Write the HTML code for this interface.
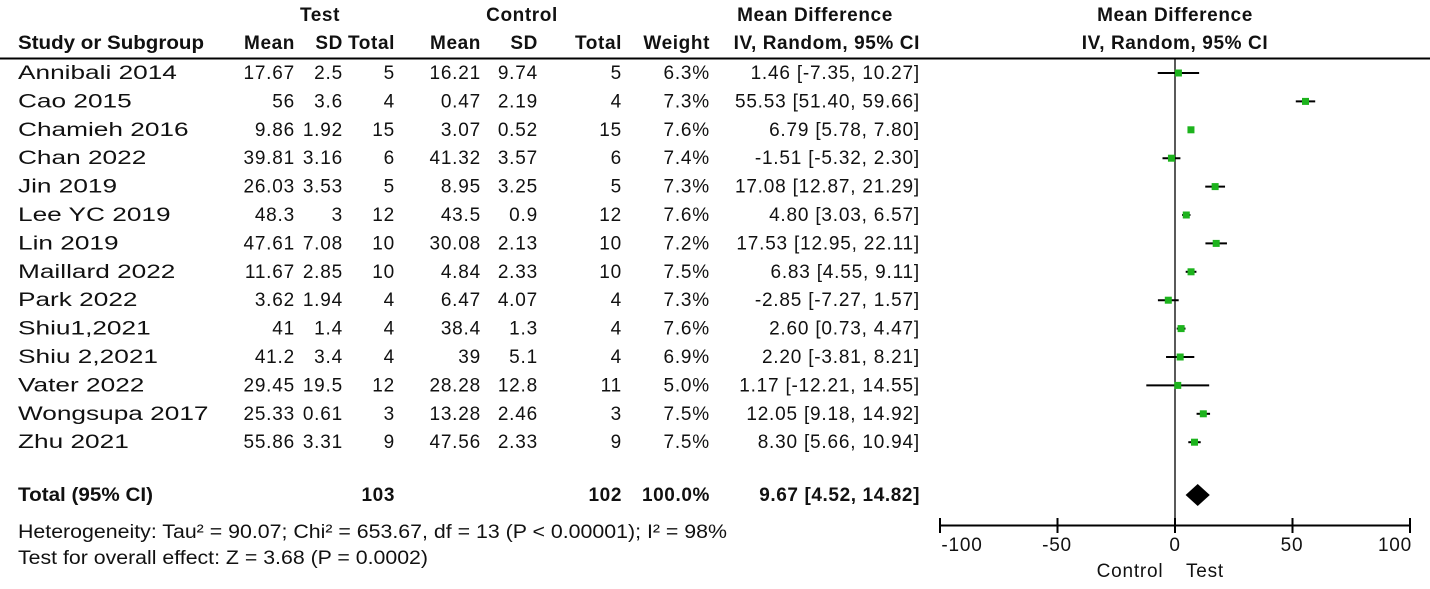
<!DOCTYPE html>
<html><head><meta charset="utf-8"><style>
html,body{margin:0;padding:0;background:#fff;}
svg{display:block;}
text{font-family:"Liberation Sans",Arial,sans-serif;font-size:19px;fill:#111;letter-spacing:0.8px;}
.b{font-weight:bold;letter-spacing:0.6px;}
.n{letter-spacing:0;}
.e{text-anchor:end;}
.m{text-anchor:middle;}
</style></head><body>
<svg width="1430" height="589" viewBox="0 0 1430 589">
<g>
<text x="320" y="21" class="m b">Test</text>
<text x="522" y="21" class="m b">Control</text>
<text x="815" y="21" class="m b">Mean Difference</text>
<text x="1175" y="21" class="m b">Mean Difference</text>
<text x="18" y="49" class="b n" textLength="186" lengthAdjust="spacingAndGlyphs">Study or Subgroup</text>
<text x="295" y="49" class="e b">Mean</text>
<text x="343" y="49" class="e b">SD</text>
<text x="395" y="49" class="e b">Total</text>
<text x="481" y="49" class="e b">Mean</text>
<text x="538" y="49" class="e b">SD</text>
<text x="622" y="49" class="e b">Total</text>
<text x="710" y="49" class="e b">Weight</text>
<text x="920" y="49" class="e b">IV, Random, 95% CI</text>
<text x="1175" y="49" class="m b">IV, Random, 95% CI</text>
</g>
<line x1="0" y1="58.5" x2="1430" y2="58.5" stroke="#000" stroke-width="2"/>
<line x1="1175" y1="59" x2="1175" y2="525" stroke="#000" stroke-width="1.3"/>
<g id="rows"></g>
<text x="18" y="501" class="b n" textLength="135" lengthAdjust="spacingAndGlyphs">Total (95% CI)</text>
<text x="395" y="501" class="e b">103</text>
<text x="622" y="501" class="e b">102</text>
<text x="710" y="501" class="e b">100.0%</text>
<text x="920" y="501" class="e b">9.67 [4.52, 14.82]</text>
<polygon points="1185.6,495 1197.7,484 1209.8,495 1197.7,506" fill="#000"/>
<text x="18" y="538" class="n" textLength="709" lengthAdjust="spacingAndGlyphs">Heterogeneity: Tau² = 90.07; Chi² = 653.67, df = 13 (P &lt; 0.00001); I² = 98%</text>
<text x="18" y="564" class="n" textLength="410" lengthAdjust="spacingAndGlyphs">Test for overall effect: Z = 3.68 (P = 0.0002)</text>
<line x1="940" y1="525.5" x2="1410" y2="525.5" stroke="#000" stroke-width="2"/>
<g stroke="#000" stroke-width="2">
<line x1="940" y1="518" x2="940" y2="533"/><line x1="1057.5" y1="518" x2="1057.5" y2="533"/>
<line x1="1175" y1="518" x2="1175" y2="533"/><line x1="1292.5" y1="518" x2="1292.5" y2="533"/>
<line x1="1410" y1="518" x2="1410" y2="533"/>
</g>
<text x="962" y="551" class="m">-100</text>
<text x="1057" y="551" class="m">-50</text>
<text x="1175" y="551" class="m">0</text>
<text x="1292" y="551" class="m">50</text>
<text x="1395" y="551" class="m">100</text>
<text x="1130" y="577" class="m">Control</text>
<text x="1205" y="577" class="m">Test</text>
<g id="plot"></g>
</svg>
<script>
var d=[["Annibali 2014","17.67","2.5","5","16.21","9.74","5","6.3%","1.46 [-7.35, 10.27]",1.46,-7.35,10.27],
["Cao 2015","56","3.6","4","0.47","2.19","4","7.3%","55.53 [51.40, 59.66]",55.53,51.40,59.66],
["Chamieh 2016","9.86","1.92","15","3.07","0.52","15","7.6%","6.79 [5.78, 7.80]",6.79,5.78,7.80],
["Chan 2022","39.81","3.16","6","41.32","3.57","6","7.4%","-1.51 [-5.32, 2.30]",-1.51,-5.32,2.30],
["Jin 2019","26.03","3.53","5","8.95","3.25","5","7.3%","17.08 [12.87, 21.29]",17.08,12.87,21.29],
["Lee YC 2019","48.3","3","12","43.5","0.9","12","7.6%","4.80 [3.03, 6.57]",4.80,3.03,6.57],
["Lin 2019","47.61","7.08","10","30.08","2.13","10","7.2%","17.53 [12.95, 22.11]",17.53,12.95,22.11],
["Maillard 2022","11.67","2.85","10","4.84","2.33","10","7.5%","6.83 [4.55, 9.11]",6.83,4.55,9.11],
["Park 2022","3.62","1.94","4","6.47","4.07","4","7.3%","-2.85 [-7.27, 1.57]",-2.85,-7.27,1.57],
["Shiu1,2021","41","1.4","4","38.4","1.3","4","7.6%","2.60 [0.73, 4.47]",2.60,0.73,4.47],
["Shiu 2,2021","41.2","3.4","4","39","5.1","4","6.9%","2.20 [-3.81, 8.21]",2.20,-3.81,8.21],
["Vater 2022","29.45","19.5","12","28.28","12.8","11","5.0%","1.17 [-12.21, 14.55]",1.17,-12.21,14.55],
["Wongsupa 2017","25.33","0.61","3","13.28","2.46","3","7.5%","12.05 [9.18, 14.92]",12.05,9.18,14.92],
["Zhu 2021","55.86","3.31","9","47.56","2.33","9","7.5%","8.30 [5.66, 10.94]",8.30,5.66,10.94]];
var xs=[295,343,395,481,538,622,710,920],ns="http://www.w3.org/2000/svg",g=document.getElementById("rows"),p=document.getElementById("plot");
function el(t,a,par,txt){var e=document.createElementNS(ns,t);for(var k in a)e.setAttribute(k,a[k]);if(txt!=null)e.textContent=txt;par.appendChild(e);return e;}
function X(v){return 1175+2.35*v;}
d.forEach(function(r,i){var y=73+i*28.4;
var t=el("text",{x:18,y:y+6,"class":"n"},g,r[0]);
var w=t.getComputedTextLength();t.setAttribute("textLength",(w*1.38).toFixed(1));t.setAttribute("lengthAdjust","spacingAndGlyphs");
for(var j=0;j<8;j++)el("text",{x:xs[j],y:y+6,"class":"e"},g,r[j+1]);
el("line",{x1:X(r[10]),x2:X(r[11]),y1:y,y2:y,stroke:"#000","stroke-width":2},p);
el("rect",{x:X(r[9])-3.5,y:y-3.5,width:7,height:7,fill:"#1db31d"},p);
});
</script>
</body></html>
